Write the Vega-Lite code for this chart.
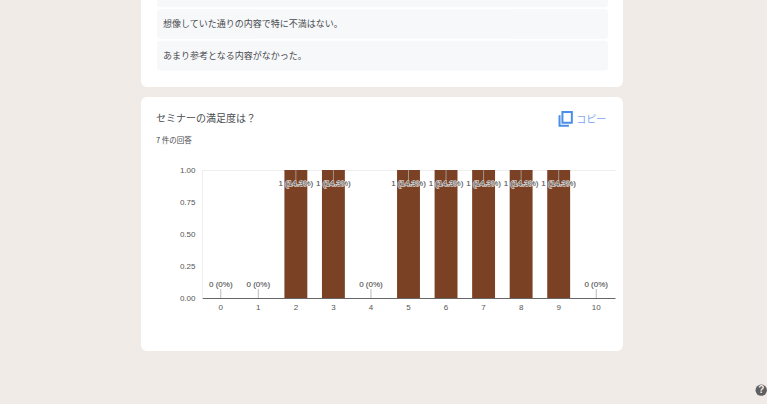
{
  "$schema": "https://vega.github.io/schema/vega-lite/v6.json",
  "background": "#f0ebe7",
  "padding": {"left": 141, "top": -23, "right": 0, "bottom": 8},
  "bounds": "flush",
  "spacing": 10,
  "config": {"view": {"stroke": null, "fill": "white", "cornerRadius": 6}, "font": "Noto Sans CJK JP", "concat": {"spacing": 10}},
  "vconcat": [
    {
      "width": 482,
      "height": 107,
      "data": {"values": [
        {"row": "a", "comment": ""},
        {"row": "b", "comment": "想像していた通りの内容で特に不満はない。"},
        {"row": "c", "comment": "あまり参考となる内容がなかった。"}
      ]},
      "encoding": {
        "y": {"field": "row", "type": "nominal", "axis": null, "sort": ["a", "b", "c"], "scale": {"domain": ["a", "b", "c"], "range": [-2.5, 90.5], "paddingInner": 0.06, "paddingOuter": 0}}
      },
      "layer": [
        {
          "mark": {"type": "bar", "color": "#f7f8fa", "cornerRadius": 3},
          "encoding": {
            "x": {"datum": 0, "type": "quantitative", "axis": null, "scale": {"domain": [0, 1], "range": [16, 467]}},
            "x2": {"datum": 1}
          }
        },
        {
          "mark": {"type": "text", "align": "left", "dx": 6, "fontSize": 9, "color": "#4a4d50"},
          "encoding": {
            "x": {"datum": 0, "type": "quantitative", "axis": null, "scale": {"domain": [0, 1], "range": [16, 467]}},
            "text": {"field": "comment"}
          }
        }
      ]
    },
    {
      "width": 482,
      "height": 254,
      "title": {
        "text": "セミナーの満足度は？",
        "subtitle": "7 件の回答",
        "anchor": "start",
        "frame": "group",
        "offset": -47,
        "dx": 15,
        "fontSize": 10,
        "fontWeight": "normal",
        "color": "#4a4d50",
        "subtitleFontSize": 7.5,
        "subtitleColor": "#4a4d50",
        "subtitlePadding": 13,
        "font": "Noto Sans CJK JP",
        "subtitleFont": "Noto Sans CJK JP"
      },
      "data": {"values": [
        {"score": "0", "count": 0, "label": "0 (0%)", "labelAt": 0.1, "leaderEnd": 0.07},
        {"score": "1", "count": 0, "label": "0 (0%)", "labelAt": 0.1, "leaderEnd": 0.07},
        {"score": "2", "count": 1, "label": "1 (14.3%)", "labelAt": 0.89, "leaderEnd": 0.92},
        {"score": "3", "count": 1, "label": "1 (14.3%)", "labelAt": 0.89, "leaderEnd": 0.92},
        {"score": "4", "count": 0, "label": "0 (0%)", "labelAt": 0.1, "leaderEnd": 0.07},
        {"score": "5", "count": 1, "label": "1 (14.3%)", "labelAt": 0.89, "leaderEnd": 0.92},
        {"score": "6", "count": 1, "label": "1 (14.3%)", "labelAt": 0.89, "leaderEnd": 0.92},
        {"score": "7", "count": 1, "label": "1 (14.3%)", "labelAt": 0.89, "leaderEnd": 0.92},
        {"score": "8", "count": 1, "label": "1 (14.3%)", "labelAt": 0.89, "leaderEnd": 0.92},
        {"score": "9", "count": 1, "label": "1 (14.3%)", "labelAt": 0.89, "leaderEnd": 0.92},
        {"score": "10", "count": 0, "label": "0 (0%)", "labelAt": 0.1, "leaderEnd": 0.07}
      ]},
      "resolve": {"axis": {"x": "independent"}},
      "layer": [
        {
          "mark": {"type": "bar", "color": "#7b4124"},
          "encoding": {
            "x": {
              "field": "score", "type": "ordinal",
              "scale": {"domain": ["0","1","2","3","4","5","6","7","8","9","10"], "range": [61, 474], "paddingInner": 0.39, "paddingOuter": 0.195},
              "axis": {"title": null, "offset": -53, "labelAngle": 0, "labelFont": "Liberation Sans", "labelFontSize": 8, "labelColor": "#555555", "labelPadding": 5, "ticks": false, "domainColor": "#666666", "domainWidth": 1.2, "grid": false}
            },
            "y": {
              "field": "count", "type": "quantitative",
              "scale": {"domain": [0, 1], "range": [201, 73], "nice": false},
              "axis": {"title": null, "offset": -61, "values": [0, 0.25, 0.5, 0.75, 1], "format": ".2f", "labelFont": "Liberation Sans", "labelFontSize": 8, "labelColor": "#555555", "labelPadding": 7, "ticks": false, "domainColor": "#eeeeee", "grid": false}
            }
          }
        },
        {
          "mark": {"type": "rule", "color": "#aaaaaa", "strokeWidth": 0.8},
          "encoding": {
            "x": {"field": "score", "type": "ordinal", "scale": {"domain": ["0","1","2","3","4","5","6","7","8","9","10"], "range": [61, 474], "paddingInner": 0.39, "paddingOuter": 0.195},
              "axis": {"orient": "top", "title": null, "offset": -73, "labels": false, "ticks": false, "domainColor": "#eeeeee", "grid": false}},
            "y": {"field": "count", "type": "quantitative"},
            "y2": {"field": "leaderEnd"}
          }
        },
        {
          "mark": {"type": "text", "font": "Liberation Sans", "fontSize": 8, "stroke": "#ffffff", "strokeWidth": 1.5, "strokeOpacity": 0.75},
          "encoding": {
            "x": {"field": "score", "type": "ordinal", "axis": null},
            "y": {"field": "labelAt", "type": "quantitative"},
            "text": {"field": "label"}
          }
        },
        {
          "mark": {"type": "text", "font": "Liberation Sans", "fontSize": 8, "color": "#555555"},
          "encoding": {
            "x": {"field": "score", "type": "ordinal", "axis": null},
            "y": {"field": "labelAt", "type": "quantitative"},
            "text": {"field": "label"}
          }
        },
        {
          "data": {"values": [{"action": "コピー"}]},
          "mark": {"type": "text", "fontSize": 10, "color": "#7fa8ee", "dx": -5},
          "encoding": {
            "x": {"datum": "10", "type": "ordinal", "axis": null},
            "y": {"datum": 1.39, "type": "quantitative"},
            "text": {"field": "action"}
          }
        },
        {
          "data": {"values": [{"action": "copy"}]},
          "mark": {"type": "point", "shape": "M-0.45 -0.95H0.85V0.55H-0.45Z M-0.85 -0.5V0.95H0.45", "size": 210, "filled": false, "stroke": "#4a8ee8", "strokeWidth": 2, "xOffset": 7, "opacity": 1},
          "encoding": {
            "x": {"datum": "9", "type": "ordinal", "axis": null},
            "y": {"datum": 1.4, "type": "quantitative"}
          }
        },
        {
          "data": {"values": [{"action": "help"}]},
          "mark": {"type": "point", "shape": "circle", "size": 130, "filled": true, "color": "#5f5f5f", "xOffset": 165, "opacity": 1},
          "encoding": {
            "x": {"datum": "10", "type": "ordinal", "axis": null},
            "y": {"datum": -0.72, "type": "quantitative"}
          }
        },
        {
          "data": {"values": [{"action": "?"}]},
          "mark": {"type": "text", "font": "Liberation Sans", "fontWeight": "bold", "fontSize": 10, "color": "#f0ebe7", "dx": 165},
          "encoding": {
            "x": {"datum": "10", "type": "ordinal", "axis": null},
            "y": {"datum": -0.72, "type": "quantitative"},
            "text": {"field": "action"}
          }
        }
      ]
    }
  ]
}
